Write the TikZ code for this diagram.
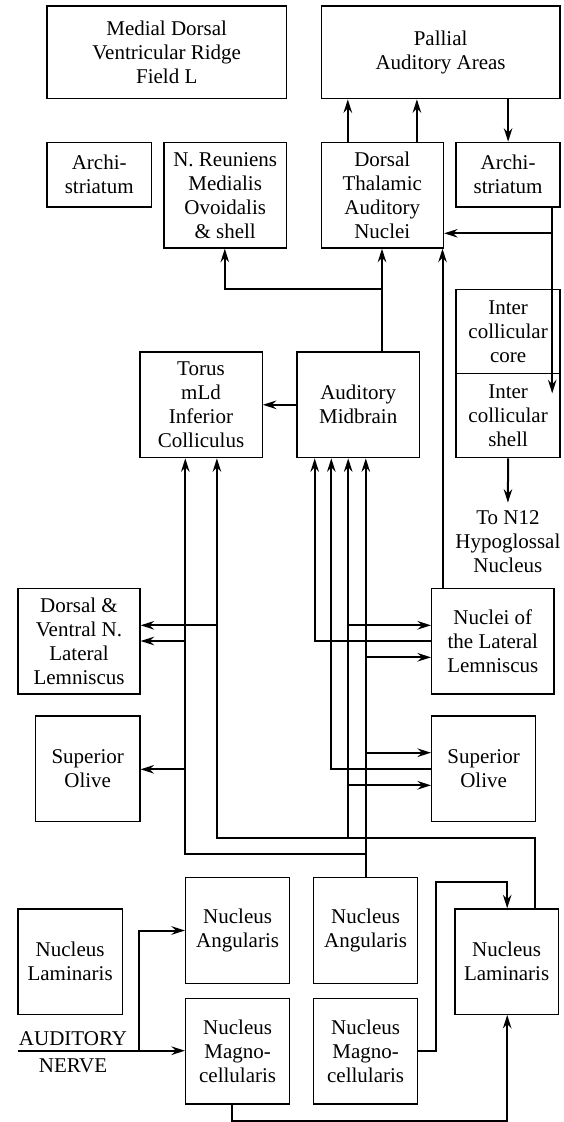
\documentclass[tikz,border=0pt]{standalone}
\usepackage{fontspec}
\setmainfont{Liberation Serif}
\usetikzlibrary{arrows.meta}
\begin{document}
\begin{tikzpicture}[x=1pt,y=-1pt,
  box/.style={draw, line width=1.3pt, align=center, inner sep=0pt,
    font=\fontsize{21}{24}\selectfont},
  lbl/.style={align=center, inner sep=0pt, font=\fontsize{21}{24}\selectfont},
  conn/.style={line width=2pt, -{Stealth[length=13.5pt,width=8.5pt,inset=4.5pt]}},
  plain/.style={line width=2pt}]
\useasboundingbox (0,0) rectangle (564,1122);
% boxes
\node[box, minimum width=239.2pt, minimum height=92.7pt] (MDVR) at (166.7,52.3) {Medial Dorsal\\Ventricular Ridge\\Field L};
\node[box, minimum width=238.9pt, minimum height=92.7pt] (PAL) at (440.6,52.3) {Pallial\\Auditory Areas};
\node[box, minimum width=104.3pt, minimum height=64.7pt] (ARL) at (99.2,174.7) {Archi-\\striatum};
\node[box, minimum width=122.3pt, minimum height=105.7pt] (NRMO) at (225.2,195.2) {N. Reuniens\\Medialis\\Ovoidalis\\\& shell};
\node[box, minimum width=122.3pt, minimum height=105.7pt] (DTAN) at (382.3,195.2) {Dorsal\\Thalamic\\Auditory\\Nuclei};
\node[box, minimum width=104pt, minimum height=64.7pt] (ARR) at (508.1,174.7) {Archi-\\striatum};
\node[box, minimum width=104pt, minimum height=84.4pt] (ICC) at (508.1,331.5) {Inter\\collicular\\core};
\node[box, minimum width=104pt, minimum height=84pt] (ICS) at (508.1,415.7) {Inter\\collicular\\shell};
\node[box, minimum width=122.3pt, minimum height=105.7pt] (TOR) at (201,404.8) {Torus\\mLd\\Inferior\\Colliculus};
\node[box, minimum width=122.3pt, minimum height=105.7pt] (AMB) at (358.2,404.8) {Auditory\\Midbrain};
\node[lbl, inner sep=8pt] (N12) at (507.9,541.9) {To N12\\Hypoglossal\\Nucleus};
\node[box, minimum width=121.9pt, minimum height=105.3pt] (DVNLL) at (79,641.3) {Dorsal \&\\Ventral N.\\Lateral\\Lemniscus};
\node[box, minimum width=122.3pt, minimum height=105.3pt] (NLL) at (492.8,641.3) {Nuclei of\\the Lateral\\Lemniscus};
\node[box, minimum width=104.3pt, minimum height=105.7pt] (SOL) at (87.7,768.8) {Superior\\Olive};
\node[box, minimum width=103.9pt, minimum height=105.7pt] (SOR) at (483.6,768.8) {Superior\\Olive};
\node[box, minimum width=104pt, minimum height=105.6pt] (NA1) at (237.6,930.5) {Nucleus\\Angularis};
\node[box, minimum width=103.9pt, minimum height=105.6pt] (NA2) at (365.6,930.5) {Nucleus\\Angularis};
\node[box, minimum width=104.3pt, minimum height=105.3pt] (NLa) at (70.1,961.6) {Nucleus\\Laminaris};
\node[box, minimum width=103.3pt, minimum height=105.3pt] (NLb) at (506.6,961.6) {Nucleus\\Laminaris};
\node[box, minimum width=104pt, minimum height=105.3pt] (NM1) at (237.6,1051.3) {Nucleus\\Magno-\\cellularis};
\node[box, minimum width=103.9pt, minimum height=105.3pt] (NM2) at (365.6,1051.3) {Nucleus\\Magno-\\cellularis};
\node[lbl] (AN) at (73,1052) {AUDITORY\\[3pt]NERVE};
% channel coordinates
\coordinate (xa) at (185.3,0);
\coordinate (xb) at (216.9,0);
\coordinate (xc) at (314.7,0);
\coordinate (xd) at (331.3,0);
\coordinate (xe) at (348.2,0);
\coordinate (xf) at (365.8,0);
\coordinate (xg) at (534.9,0);
\coordinate (xh) at (552.2,0);
\coordinate (xi) at (442.5,0);
\coordinate (xj) at (436.3,0);
\coordinate (xk) at (507.2,0);
\coordinate (xl) at (232,0);
\coordinate (xm) at (138.5,0);
\coordinate (xn) at (224.8,0);
\coordinate (xo) at (382,0);
\coordinate (xp) at (347.8,0);
\coordinate (xq) at (416.9,0);
\coordinate (ya) at (0,233.3);
\coordinate (yb) at (0,289.3);
\coordinate (yc) at (0,625.3);
\coordinate (yd) at (0,641);
\coordinate (ye) at (0,657.3);
\coordinate (yf) at (0,752.7);
\coordinate (yg) at (0,769.3);
\coordinate (yh) at (0,785.3);
\coordinate (yi) at (0,837.5);
\coordinate (yj) at (0,853.7);
\coordinate (yk) at (0,881.7);
\coordinate (yn) at (0,1120.5);
\coordinate (icsin) at (552.2,393.3);
\coordinate (anin) at (18,1050.7);
% top connectors
\draw[conn] (DTAN.north -| xp) -- (PAL.south -| xp);
\draw[conn] (DTAN.north -| xq) -- (PAL.south -| xq);
\draw[conn] (PAL.south -| ARR.north) -- (ARR.north);
\draw[conn] (ARR.south -| xh) -- (icsin);
\draw[conn] (xh |- ya) -- (DTAN.east |- ya);
\draw[conn] (AMB.north -| xo) -- (DTAN.south -| xo);
\draw[conn] (xo |- yb) -| (NRMO.south -| xn);
\draw[conn] (NLL.north -| xi) -- (DTAN.south -| xi);
\draw[conn] (AMB.west) -- (TOR.east);
\draw[conn] (ICS.south) -- (N12.north);
% midbrain channels
\draw[conn] (NA2.north -| xf) -- (AMB.south -| xf);
\draw[conn] (xf |- ye) -- (NLL.west |- ye);
\draw[conn] (xf |- yf) -- (SOR.west |- yf);
\draw[conn] (xf |- yj) -| (TOR.south -| xa);
\draw[conn] (xa |- yd) -- (DVNLL.east |- yd);
\draw[conn] (xa |- yg) -- (SOL.east |- yg);
\draw[conn] (NLb.north -| xg) |- (xb |- yi) -- (TOR.south -| xb);
\draw[conn] (xe |- yi) -- (AMB.south -| xe);
\draw[conn] (xe |- yc) -- (NLL.west |- yc);
\draw[conn] (xe |- yh) -- (SOR.west |- yh);
\draw[conn] (xb |- yc) -- (DVNLL.east |- yc);
\draw[conn] (NLL.west |- yd) -| (AMB.south -| xc);
\draw[conn] (SOR.west |- yg) -| (AMB.south -| xd);
% brainstem
\draw[conn] (anin) -- (NM1.west |- anin);
\draw[conn] (xm |- anin) |- (NA1.west);
\draw[conn] (NM2.east) -| (xj |- yk) -| (NLb.north -| xk);
\draw[conn] (NM1.south -| xl) |- (xk |- yn) -- (NLb.south -| xk);
\end{tikzpicture}
\end{document}
